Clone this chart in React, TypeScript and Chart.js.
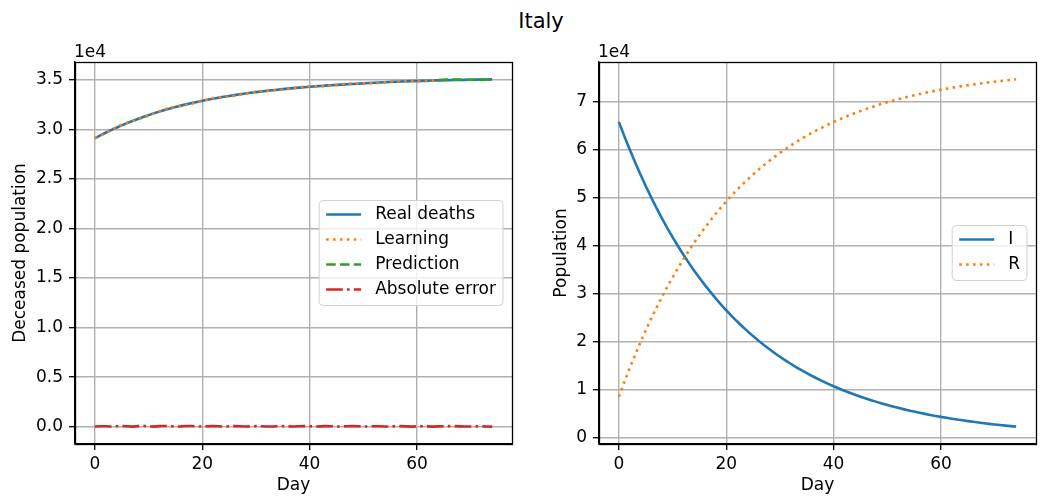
import React, { useEffect, useRef } from 'react';
import { Chart, registerables } from 'chart.js';

Chart.register(...registerables);

const FONT = 'DejaVu Sans';

const days = [
  0, 1, 2, 3, 4, 5, 6, 7, 8, 9, 10, 11, 12, 13, 14, 15, 16, 17, 18, 19,
  20, 21, 22, 23, 24, 25, 26, 27, 28, 29, 30, 31, 32, 33, 34, 35, 36, 37, 38, 39,
  40, 41, 42, 43, 44, 45, 46, 47, 48, 49, 50, 51, 52, 53, 54, 55, 56, 57, 58, 59,
  60, 61, 62, 63, 64, 65, 66, 67, 68, 69, 70, 71, 72, 73, 74,
];

const realDeaths = [
  29100, 29386, 29660, 29921, 30169, 30407, 30634, 30849, 31056, 31253,
  31440, 31620, 31791, 31954, 32111, 32260, 32397, 32527, 32651, 32770,
  32883, 32990, 33093, 33191, 33284, 33373, 33458, 33538, 33615, 33689,
  33759, 33825, 33889, 33949, 34007, 34062, 34114, 34164, 34212, 34257,
  34300, 34342, 34381, 34418, 34454, 34488, 34521, 34551, 34581, 34609,
  34646, 34676, 34706, 34734, 34761, 34787, 34812, 34831, 34849, 34867,
  34883, 34899, 34914, 34928, 34942, 34955, 34968, 34979, 34991, 35001,
  35012, 35021, 35031, 35040, 35048,
];

const learningDays = days.slice(0, 65);
const learning = [
  29120, 29351, 29620, 29931, 30214, 30467, 30674, 30844, 31006, 31183,
  31395, 31625, 31841, 32024, 32166, 32275, 32367, 32467, 32586, 32740,
  32893, 33035, 33153, 33231, 33284, 33333, 33403, 33493, 33605, 33719,
  33809, 33870, 33904, 33929, 33962, 34012, 34089, 34174, 34252, 34312,
  34340, 34347, 34351, 34368, 34409, 34468, 34536, 34596, 34641, 34654,
  34656, 34651, 34661, 34694, 34746, 34807, 34857, 34881, 34879, 34862,
  34848, 34854, 34884, 34928, 34967,
];

const predictionDays = days.slice(64);
const prediction = [
  34967, 35000, 35023, 35029, 35021, 35011, 35002, 34996, 35001, 35020, 35043,
];

const absoluteError = [
  20, 35, 40, 10, 45, 60, 40, 5, 50, 70,
  45, 5, 50, 70, 55, 15, 30, 60, 65, 30,
  10, 45, 60, 40, 0, 40, 55, 45, 10, 30,
  50, 45, 15, 20, 45, 50, 25, 10, 40, 55,
  40, 5, 30, 50, 45, 20, 15, 45, 60, 45,
  10, 25, 45, 40, 15, 20, 45, 50, 30, 5,
  35, 45, 30, 0, 25, 45, 55, 50, 30, 10,
  10, 25, 30, 20, 5,
];

const infected = [
  65700, 62784, 59998, 57335, 54791, 52359, 50035, 47814, 45692, 43664,
  41726, 39874, 38104, 36413, 34797, 33253, 31777, 30367, 29019, 27731,
  26500, 25324, 24200, 23126, 22100, 21119, 20182, 19286, 18430, 17612,
  16830, 16083, 15369, 14687, 14035, 13412, 12817, 12248, 11704, 11185,
  10689, 10215, 9762, 9329, 8915, 8519, 8141, 7780, 7435, 7105,
  6790, 6489, 6201, 5926, 5663, 5412, 5172, 4942, 4723, 4513,
  4313, 4122, 3939, 3764, 3597, 3437, 3284, 3138, 2999, 2866,
  2739, 2617, 2501, 2390, 2284,
];

const recovered = [
  8500, 11514, 14395, 17150, 19783, 22301, 24708, 27009, 29209, 31312,
  33322, 35244, 37081, 38837, 40516, 42121, 43656, 45123, 46526, 47867,
  49149, 50374, 51546, 52666, 53737, 54761, 55740, 56675, 57569, 58424,
  59241, 60022, 60769, 61483, 62166, 62819, 63443, 64040, 64610, 65155,
  65676, 66174, 66650, 67105, 67540, 67956, 68354, 68734, 69098, 69446,
  69778, 70096, 70400, 70690, 70968, 71233, 71487, 71729, 71961, 72183,
  72395, 72598, 72791, 72977, 73154, 73323, 73485, 73639, 73787, 73929,
  74064, 74193, 74317, 74435, 74548,
];

const xTicks = [0, 20, 40, 60];
const leftYTicks = [0, 5000, 10000, 15000, 20000, 25000, 30000, 35000];
const rightYTicks = [0, 10000, 20000, 30000, 40000, 50000, 60000, 70000];

const BLUE = '#1f77b4';
const ORANGE = '#ff7f0e';
const GREEN = '#2ca02c';
const RED = '#d62728';

const DOTTED = [2.6, 4.3];
const DASHED = [9.6, 4.2];
const DASHDOT = [16.7, 4.2, 2.6, 4.2];

const pts = (xs: number[], ys: number[]) => ys.map((y, i) => ({ x: xs[i], y }));

const mplExtras = {
  id: 'mplExtras',
  afterDatasetsDraw(chart: any, _args: any, opts: any) {
    const { ctx, chartArea: a } = chart;
    ctx.save();
    ctx.setLineDash([]);
    ctx.strokeStyle = '#000';
    ctx.lineWidth = 1.3;
    ctx.strokeRect(Math.round(a.left) + 0.5, Math.round(a.top) + 0.5,
      Math.round(a.right) - Math.round(a.left), Math.round(a.bottom) - Math.round(a.top));
    ctx.font = `17px "${FONT}"`;
    ctx.fillStyle = '#000';
    ctx.textAlign = 'left';
    ctx.textBaseline = 'alphabetic';
    if (opts.offsetText) ctx.fillText(opts.offsetText, a.left - 1, a.top - 5);
    const items = chart.data.datasets.map((d: any) => ({
      label: d.label, color: d.borderColor, dash: d.borderDash || [],
    }));
    const textW = Math.max(...items.map((i: any) => ctx.measureText(i.label).width));
    const pad = 7, handle = 35, gap = 14, rowH = 25;
    const w = pad + handle + gap + textW + pad;
    const h = (items.length - 1) * rowH + 30;
    const right = a.right - 9;
    const left = right - w;
    const top = (a.top + a.bottom) / 2 - h / 2;
    const r = 4;
    ctx.beginPath();
    ctx.moveTo(left + r, top);
    ctx.lineTo(left + w - r, top);
    ctx.arcTo(left + w, top, left + w, top + r, r);
    ctx.lineTo(left + w, top + h - r);
    ctx.arcTo(left + w, top + h, left + w - r, top + h, r);
    ctx.lineTo(left + r, top + h);
    ctx.arcTo(left, top + h, left, top + h - r, r);
    ctx.lineTo(left, top + r);
    ctx.arcTo(left, top, left + r, top, r);
    ctx.closePath();
    ctx.fillStyle = 'rgba(255,255,255,0.8)';
    ctx.fill();
    ctx.strokeStyle = '#d0d0d0';
    ctx.lineWidth = 1;
    ctx.stroke();
    items.forEach((it: any, i: number) => {
      const y = top + 14 + i * rowH;
      ctx.beginPath();
      ctx.setLineDash(it.dash);
      ctx.lineCap = 'butt';
      ctx.strokeStyle = it.color;
      ctx.lineWidth = 2.6;
      ctx.moveTo(left + pad, y);
      ctx.lineTo(left + pad + handle, y);
      ctx.stroke();
      ctx.setLineDash([]);
      ctx.fillStyle = '#000';
      ctx.textBaseline = 'middle';
      ctx.fillText(it.label, left + pad + handle + gap, y);
    });
    ctx.restore();
  },
};

function makeScales(opts: {
  yTicks: number[]; yMin: number; yMax: number; yFmt: (v: number) => string;
  yTitle: string; yTitlePad: number; yWidth: number;
}) {
  const font = { family: FONT, size: 17 };
  const grid = {
    color: '#b0b0b0', lineWidth: 1.4, tickColor: '#000', tickLength: 6, tickWidth: 1.3,
  };
  const border = { display: true, color: '#000', width: 1.3 };
  return {
    x: {
      type: 'linear' as const,
      min: -3.7,
      max: 77.7,
      afterBuildTicks: (s: any) => { s.ticks = xTicks.map((v) => ({ value: v })); },
      afterFit: (s: any) => { s.height = 53; },
      ticks: {
        font, color: '#000', padding: 4, autoSkip: false, maxRotation: 0,
        callback: (v: any) => String(v),
      },
      grid, border,
      title: { display: true, text: 'Day', font, color: '#000', padding: { top: 0, bottom: 1 } },
    },
    y: {
      type: 'linear' as const,
      min: opts.yMin,
      max: opts.yMax,
      afterBuildTicks: (s: any) => { s.ticks = opts.yTicks.map((v) => ({ value: v })); },
      afterFit: (s: any) => { s.width = opts.yWidth; },
      ticks: {
        font, color: '#000', padding: 6, autoSkip: false,
        callback: (v: any) => opts.yFmt(Number(v)),
      },
      grid, border,
      title: {
        display: true, text: opts.yTitle, font, color: '#000',
        padding: { top: opts.yTitlePad, bottom: 0 },
      },
    },
  };
}

const lineDs = (label: string, data: any[], color: string, dash: number[], order: number) => ({
  label, data, borderColor: color, backgroundColor: color, borderDash: dash,
  borderWidth: 2.6, pointRadius: 0, fill: false, tension: 0, order,
  borderCapStyle: 'butt' as const, borderJoinStyle: 'round' as const,
});

export default function App() {
  const leftRef = useRef<HTMLCanvasElement>(null);
  const rightRef = useRef<HTMLCanvasElement>(null);

  useEffect(() => {
    const left = new Chart(leftRef.current!, {
      type: 'line',
      data: {
        datasets: [
          lineDs('Real deaths', pts(days, realDeaths), BLUE, [], 4),
          lineDs('Learning', pts(learningDays, learning), ORANGE, DOTTED, 3),
          lineDs('Prediction', pts(predictionDays, prediction), GREEN, DASHED, 2),
          lineDs('Absolute error', pts(days, absoluteError), RED, DASHDOT, 1),
        ],
      },
      options: {
        animation: false,
        responsive: false,
        devicePixelRatio: 1,
        layout: { padding: { left: 0, right: 8, top: 62, bottom: 0 } },
        plugins: {
          legend: { display: false },
          tooltip: { enabled: false },
          mplExtras: { offsetText: '1e4' },
        } as any,
        scales: makeScales({
          yTicks: leftYTicks, yMin: -1750, yMax: 36800,
          yFmt: (v) => (v / 1e4).toFixed(1),
          yTitle: 'Deceased population', yTitlePad: 10, yWidth: 75,
        }) as any,
      },
      plugins: [mplExtras],
    });

    const right = new Chart(rightRef.current!, {
      type: 'line',
      data: {
        datasets: [
          lineDs('I', pts(days, infected), BLUE, [], 2),
          lineDs('R', pts(days, recovered), ORANGE, DOTTED, 1),
        ],
      },
      options: {
        animation: false,
        responsive: false,
        devicePixelRatio: 1,
        layout: { padding: { left: 0, right: 5, top: 62, bottom: 0 } },
        plugins: {
          legend: { display: false },
          tooltip: { enabled: false },
          mplExtras: { offsetText: '1e4' },
        } as any,
        scales: makeScales({
          yTicks: rightYTicks, yMin: -1330, yMax: 78160,
          yFmt: (v) => String(Math.round(v / 1e4)),
          yTitle: 'Population', yTitlePad: 31, yWidth: 79,
        }) as any,
      },
      plugins: [mplExtras],
    });

    return () => {
      left.destroy();
      right.destroy();
    };
  }, []);

  return (
    <div style={{ position: 'absolute', left: 0, top: 0, width: 1041, height: 497, background: '#fff', overflow: 'hidden' }}>
      <div style={{
        position: 'absolute', left: 441, top: 11, width: 200, textAlign: 'center',
        fontFamily: FONT, fontSize: 21, lineHeight: '21px', color: '#000',
      }}>Italy</div>
      <canvas ref={leftRef} width={520} height={497} style={{ position: 'absolute', left: 0, top: 0, width: 520, height: 497 }} />
      <canvas ref={rightRef} width={521} height={497} style={{ position: 'absolute', left: 520, top: 0, width: 521, height: 497 }} />
    </div>
  );
}
